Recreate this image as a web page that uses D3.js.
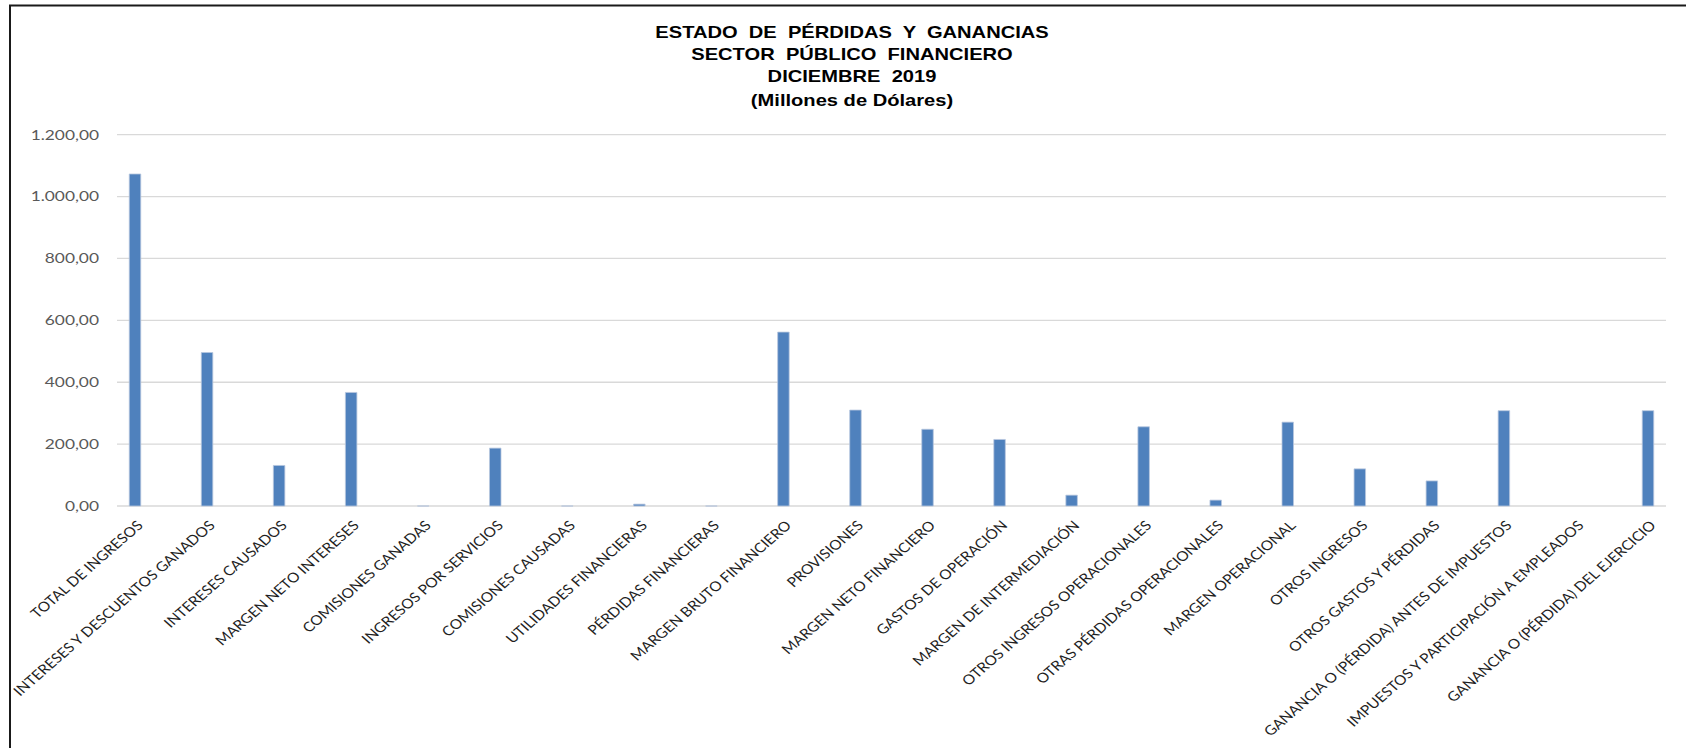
<!DOCTYPE html>
<html>
<head>
<meta charset="utf-8">
<script src="https://cdn.jsdelivr.net/npm/d3@7"></script>
<style>
  html, body { margin: 0; padding: 0; background: #fff; }
  svg { display: block; }
</style>
</head>
<body>
<svg id="chart" width="1686" height="748"></svg>
<script>
// Estado de pérdidas y ganancias, sector público financiero, diciembre 2019 (millones USD)
const categories = [
  "TOTAL DE INGRESOS",
  "INTERESES Y DESCUENTOS GANADOS",
  "INTERESES CAUSADOS",
  "MARGEN NETO INTERESES",
  "COMISIONES GANADAS",
  "INGRESOS POR SERVICIOS",
  "COMISIONES CAUSADAS",
  "UTILIDADES FINANCIERAS",
  "PÉRDIDAS FINANCIERAS",
  "MARGEN BRUTO FINANCIERO",
  "PROVISIONES",
  "MARGEN NETO FINANCIERO",
  "GASTOS DE OPERACIÓN",
  "MARGEN DE INTERMEDIACIÓN",
  "OTROS INGRESOS OPERACIONALES",
  "OTRAS PÉRDIDAS OPERACIONALES",
  "MARGEN OPERACIONAL",
  "OTROS INGRESOS",
  "OTROS GASTOS Y PÉRDIDAS",
  "GANANCIA O (PÉRDIDA) ANTES DE IMPUESTOS",
  "IMPUESTOS Y PARTICIPACIÓN A EMPLEADOS",
  "GANANCIA O (PÉRDIDA) DEL EJERCICIO"
];

const values = [
  1073, 496, 131, 367, 0, 187, 0, 6, 0, 562, 310,
  248, 215, 35, 256, 19, 271, 120, 81, 308, null, 308
];

const yTicks = [0, 200, 400, 600, 800, 1000, 1200];

const titleLines = [
  "ESTADO  DE  PÉRDIDAS  Y  GANANCIAS",
  "SECTOR  PÚBLICO  FINANCIERO",
  "DICIEMBRE  2019",
  "(Millones de Dólares)"
];

// Text in this chart is drawn slightly wide
const STRETCH = 1.24;
const LABEL_STRETCH = 1.15;

const svg = d3.select("#chart");

// Chart frame
svg.append("rect")
  .attr("x", 10).attr("y", 5.5)
  .attr("width", 1720).attr("height", 800)
  .attr("fill", "none").attr("stroke", "#1a1a1a").attr("stroke-width", 2);

const x = d3.scalePoint()
  .domain(categories)
  .range([117, 1666])
  .padding(0.25);

const y = d3.scaleLinear()
  .domain([0, 1200])
  .range([506, 134.7]);

const locale = d3.formatLocale({ decimal: ",", thousands: ".", grouping: [3], currency: ["$", ""] });
const fmt = locale.format(",.2f");

// Gridlines
svg.append("g")
  .selectAll("line")
  .data(yTicks)
  .join("line")
  .attr("x1", 117).attr("x2", 1666)
  .attr("y1", d => y(d)).attr("y2", d => y(d))
  .attr("stroke", "#d9d9d9")
  .attr("stroke-width", 1.3);

// Y axis labels
svg.append("g")
  .selectAll("text")
  .data(yTicks)
  .join("text")
  .attr("transform", d => `translate(99,${y(d)}) scale(${STRETCH},1)`)
  .attr("text-anchor", "end")
  .attr("dy", "0.35em")
  .attr("font-family", "Lato, 'Open Sans', sans-serif")
  .attr("font-size", 14)
  .attr("fill", "#595959")
  .text(d => fmt(d));

// Bars
const barW = 11.5;
svg.append("g")
  .selectAll("path")
  .data(categories.map((c, i) => ({ c, v: values[i] })).filter(d => d.v !== null))
  .join("path")
  .attr("d", d => {
    const p = d3.path();
    const x0 = x(d.c) - barW / 2;
    p.rect(x0, y(d.v), barW, y(0) - y(d.v));
    return p.toString();
  })
  .attr("fill", "#4f81bd")
  .attr("stroke", "#b8c7de")
  .attr("stroke-width", 0.8);

// Category labels
svg.append("g")
  .selectAll("text")
  .data(categories)
  .join("text")
  .attr("transform", d => `translate(${x(d) + 5},${y(0) + 17}) scale(${LABEL_STRETCH},1) rotate(-45)`)
  .attr("text-anchor", "end")
  .attr("dy", "0.35em")
  .attr("font-family", "Lato, 'Open Sans', sans-serif")
  .attr("font-size", 13.5)
  .attr("fill", "#1f1f1f")
  .text(d => d);

// Title
svg.append("g")
  .selectAll("text")
  .data(titleLines)
  .join("text")
  .attr("transform", (d, i) => `translate(852,${[32, 54, 76, 100][i]}) scale(1.22,1)`)
  .attr("text-anchor", "middle")
  .attr("dy", "0.35em")
  .attr("font-family", "'Liberation Sans', Arial, sans-serif")
  .attr("font-weight", "bold")
  .attr("font-size", 16.5)
  .attr("fill", "#000")
  .style("white-space", "pre")
  .text(d => d);
</script>
</body>
</html>
